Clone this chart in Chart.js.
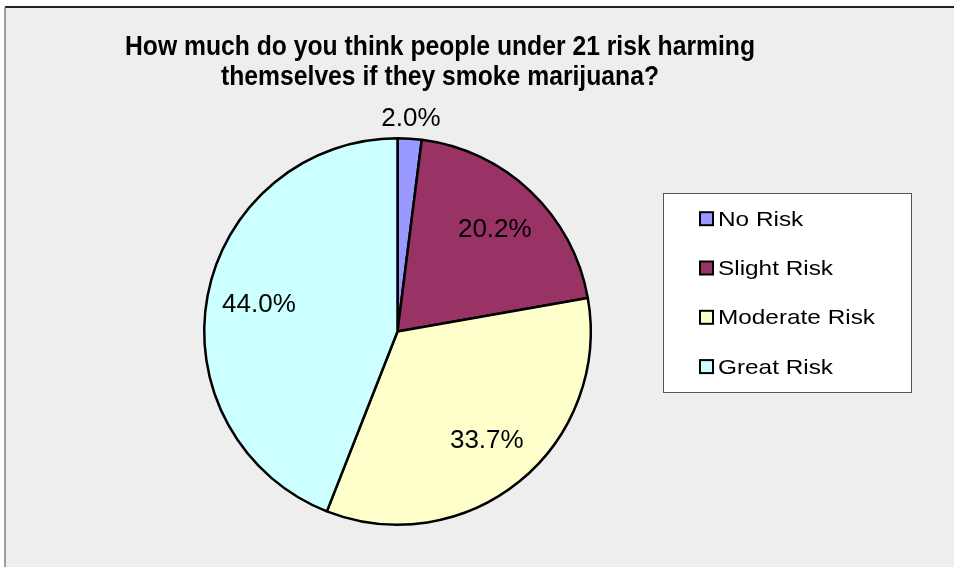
<!DOCTYPE html>
<html>
<head>
<meta charset="utf-8">
<script src="https://cdn.jsdelivr.net/npm/chart.js@4/dist/chart.umd.min.js"></script>
<style>
  html, body { margin: 0; padding: 0; background: #ffffff; }
  #wrap { position: relative; width: 954px; height: 567px; }
</style>
</head>
<body>
<div id="wrap"><canvas id="c" width="954" height="567"></canvas></div>
<script>
const titleLines = ["How much do you think people under 21 risk harming", "themselves if they smoke marijuana?"];
const categories = ["No Risk", "Slight Risk", "Moderate Risk", "Great Risk"];
const percentValues = [2.0, 20.2, 33.7, 44.0];
const sliceColors = ["#9999FF", "#993366", "#FFFFCC", "#CCFFFF"];

const FONT = "'Liberation Sans', Arial, sans-serif";

const framePlugin = {
  id: 'frame',
  beforeDraw(chart) {
    const ctx = chart.ctx;
    ctx.save();
    ctx.fillStyle = '#ffffff';
    ctx.fillRect(0, 0, chart.width, chart.height);
    ctx.fillStyle = '#eeeeee';
    ctx.fillRect(5, 7, chart.width - 5, chart.height - 7);
    ctx.strokeStyle = '#222222';
    ctx.lineWidth = 2;
    ctx.beginPath();
    ctx.moveTo(5, 7); ctx.lineTo(chart.width, 7);
    ctx.stroke();
    ctx.strokeStyle = '#808080';
    ctx.lineWidth = 1.5;
    ctx.beginPath();
    ctx.moveTo(5, 7); ctx.lineTo(5, chart.height);
    ctx.stroke();
    ctx.restore();
  }
};

const decorPlugin = {
  id: 'decor',
  afterDraw(chart) {
    const ctx = chart.ctx;
    ctx.save();
    // title (slightly condensed bold)
    ctx.fillStyle = '#000000';
    ctx.font = 'bold 28px ' + FONT;
    ctx.textAlign = 'center';
    ctx.textBaseline = 'alphabetic';
    const w0 = ctx.measureText(titleLines[0]).width;
    const sx = 630 / w0;
    [55, 85].forEach((y, i) => {
      ctx.save();
      ctx.translate(440, y);
      ctx.scale(sx, 1);
      ctx.fillText(titleLines[i], 0, 0);
      ctx.restore();
    });

    // data labels
    const meta = chart.getDatasetMeta(0);
    ctx.font = '26px ' + FONT;
    ctx.textBaseline = 'middle';
    meta.data.forEach((arc, i) => {
      const p = arc.getProps(['x', 'y', 'startAngle', 'endAngle', 'outerRadius'], true);
      const mid = (p.startAngle + p.endAngle) / 2;
      const small = percentValues[i] < 5;
      const r = small ? p.outerRadius + 20 : p.outerRadius * 0.73;
      const lx = p.x + Math.cos(mid) * r;
      const ly = p.y + Math.sin(mid) * r;
      ctx.fillText(percentValues[i].toFixed(1) + '%', lx, ly);
    });

    // legend
    const bx = 663, by = 193, bw = 248, bh = 199;
    ctx.fillStyle = '#ffffff';
    ctx.fillRect(bx, by, bw, bh);
    ctx.strokeStyle = '#555555';
    ctx.lineWidth = 1;
    ctx.strokeRect(bx + 0.5, by + 0.5, bw, bh);
    ctx.font = '21px ' + FONT;
    ctx.textAlign = 'left';
    ctx.textBaseline = 'alphabetic';
    const lsx = 157 / ctx.measureText(categories[2]).width;
    categories.forEach((c, i) => {
      const base = 225.7 + i * 49.3;
      const cy = base - 7;
      ctx.fillStyle = sliceColors[i];
      ctx.fillRect(700, cy - 6.5, 13, 13);
      ctx.strokeStyle = '#000000';
      ctx.lineWidth = 2;
      ctx.strokeRect(700, cy - 6.5, 13, 13);
      ctx.fillStyle = '#000000';
      ctx.save();
      ctx.translate(718, base);
      ctx.scale(lsx, 1);
      ctx.fillText(c, 0, 0);
      ctx.restore();
    });
    ctx.restore();
  }
};

new Chart(document.getElementById('c'), {
  type: 'pie',
  data: {
    labels: categories,
    datasets: [{
      data: percentValues,
      backgroundColor: sliceColors,
      borderColor: '#000000',
      borderWidth: 2.5,
      hoverOffset: 0
    }]
  },
  options: {
    responsive: false,
    animation: false,
    layout: { padding: { left: 203, right: 362, top: 137, bottom: 41 } },
    plugins: {
      legend: { display: false },
      title: { display: false },
      tooltip: { enabled: false }
    },
    events: []
  },
  plugins: [framePlugin, decorPlugin]
});
</script>
</body>
</html>
